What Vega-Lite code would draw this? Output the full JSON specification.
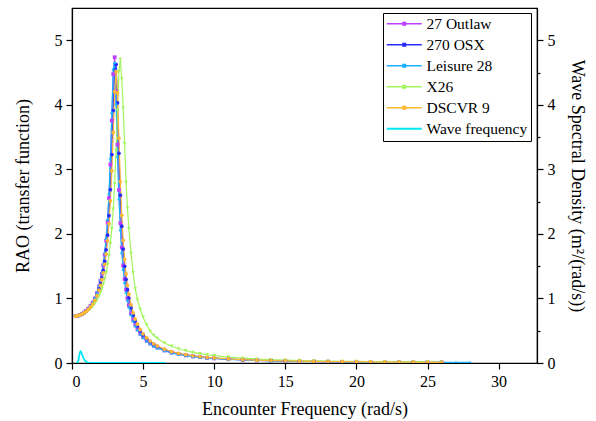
{
"$schema":"https://vega.github.io/schema/vega-lite/v6.json",
"width":465,"height":355,
"autosize":{"type":"none"},
"padding":{"left":72,"top":8,"right":59,"bottom":58},
"background":"white",
"title":{"text":"(a)","font":"Liberation Serif","fontSize":17,"fontWeight":"normal","color":"black","frame":"group","anchor":"middle","baseline":"bottom","offset":5},
"config":{
 "view":{"stroke":"black","strokeWidth":1.2},
 "axis":{"domainColor":"black","domainWidth":1.2,"tickColor":"black","tickWidth":1.2,"labelColor":"black","titleColor":"black","labelFont":"Liberation Serif","titleFont":"Liberation Serif","labelFontSize":16,"titleFontSize":18,"titleFontWeight":"normal","grid":false,"labelPadding":4}
},
"datasets":{
"rao":[
{"s":"27 Outlaw","x":0.25,"y":0.725},{"s":"27 Outlaw","x":0.4,"y":0.733},{"s":"27 Outlaw","x":0.55,"y":0.745},{"s":"27 Outlaw","x":0.7,"y":0.761},{"s":"27 Outlaw","x":0.85,"y":0.782},{"s":"27 Outlaw","x":1,"y":0.809},{"s":"27 Outlaw","x":1.15,"y":0.842},{"s":"27 Outlaw","x":1.3,"y":0.884},{"s":"27 Outlaw","x":1.45,"y":0.935},{"s":"27 Outlaw","x":1.6,"y":1.0},{"s":"27 Outlaw","x":1.75,"y":1.082},{"s":"27 Outlaw","x":1.9,"y":1.187},{"s":"27 Outlaw","x":2,"y":1.275},{"s":"27 Outlaw","x":2.1,"y":1.382},{"s":"27 Outlaw","x":2.2,"y":1.514},{"s":"27 Outlaw","x":2.3,"y":1.681},{"s":"27 Outlaw","x":2.4,"y":1.895},{"s":"27 Outlaw","x":2.5,"y":2.177},{"s":"27 Outlaw","x":2.6,"y":2.557},{"s":"27 Outlaw","x":2.7,"y":3.075},{"s":"27 Outlaw","x":2.8,"y":3.756},{"s":"27 Outlaw","x":2.9,"y":4.475},{"s":"27 Outlaw","x":3,"y":4.737},{"s":"27 Outlaw","x":3.1,"y":4.208},{"s":"27 Outlaw","x":3.2,"y":3.384},{"s":"27 Outlaw","x":3.3,"y":2.682},{"s":"27 Outlaw","x":3.4,"y":2.165},{"s":"27 Outlaw","x":3.5,"y":1.79},{"s":"27 Outlaw","x":3.6,"y":1.512},{"s":"27 Outlaw","x":3.7,"y":1.3},{"s":"27 Outlaw","x":3.8,"y":1.135},{"s":"27 Outlaw","x":3.9,"y":1.003},{"s":"27 Outlaw","x":4,"y":0.896},{"s":"27 Outlaw","x":4.15,"y":0.768},{"s":"27 Outlaw","x":4.3,"y":0.669},{"s":"27 Outlaw","x":4.45,"y":0.59},{"s":"27 Outlaw","x":4.6,"y":0.525},{"s":"27 Outlaw","x":4.8,"y":0.456},{"s":"27 Outlaw","x":5,"y":0.401},{"s":"27 Outlaw","x":5.25,"y":0.346},{"s":"27 Outlaw","x":5.5,"y":0.303},{"s":"27 Outlaw","x":5.75,"y":0.268},{"s":"27 Outlaw","x":6,"y":0.239},{"s":"27 Outlaw","x":6.5,"y":0.194},{"s":"27 Outlaw","x":7,"y":0.161},{"s":"27 Outlaw","x":7.5,"y":0.137},{"s":"27 Outlaw","x":8,"y":0.118},{"s":"27 Outlaw","x":8.5,"y":0.102},{"s":"27 Outlaw","x":9,"y":0.09},{"s":"27 Outlaw","x":9.5,"y":0.08},{"s":"27 Outlaw","x":10,"y":0.071},{"s":"27 Outlaw","x":11,"y":0.058},{"s":"27 Outlaw","x":12,"y":0.048},{"s":"27 Outlaw","x":13,"y":0.041},{"s":"27 Outlaw","x":14,"y":0.035},{"s":"27 Outlaw","x":15,"y":0.03},{"s":"27 Outlaw","x":16,"y":0.026},{"s":"27 Outlaw","x":17,"y":0.023},{"s":"27 Outlaw","x":18,"y":0.021},{"s":"27 Outlaw","x":19,"y":0.018},{"s":"27 Outlaw","x":20,"y":0.017},{"s":"27 Outlaw","x":21,"y":0.015},{"s":"27 Outlaw","x":22,"y":0.014},{"s":"27 Outlaw","x":23,"y":0.012},{"s":"27 Outlaw","x":24,"y":0.011},{"s":"27 Outlaw","x":25,"y":0.011},{"s":"27 Outlaw","x":26,"y":0.01},
{"s":"270 OSX","x":0.25,"y":0.725},{"s":"270 OSX","x":0.4,"y":0.732},{"s":"270 OSX","x":0.55,"y":0.744},{"s":"270 OSX","x":0.7,"y":0.759},{"s":"270 OSX","x":0.85,"y":0.779},{"s":"270 OSX","x":1,"y":0.804},{"s":"270 OSX","x":1.15,"y":0.835},{"s":"270 OSX","x":1.3,"y":0.873},{"s":"270 OSX","x":1.45,"y":0.921},{"s":"270 OSX","x":1.6,"y":0.98},{"s":"270 OSX","x":1.75,"y":1.054},{"s":"270 OSX","x":1.9,"y":1.149},{"s":"270 OSX","x":2,"y":1.227},{"s":"270 OSX","x":2.1,"y":1.32},{"s":"270 OSX","x":2.2,"y":1.434},{"s":"270 OSX","x":2.3,"y":1.575},{"s":"270 OSX","x":2.4,"y":1.753},{"s":"270 OSX","x":2.5,"y":1.981},{"s":"270 OSX","x":2.6,"y":2.283},{"s":"270 OSX","x":2.7,"y":2.686},{"s":"270 OSX","x":2.8,"y":3.229},{"s":"270 OSX","x":2.9,"y":3.911},{"s":"270 OSX","x":3,"y":4.542},{"s":"270 OSX","x":3.1,"y":4.628},{"s":"270 OSX","x":3.2,"y":4.029},{"s":"270 OSX","x":3.3,"y":3.248},{"s":"270 OSX","x":3.4,"y":2.6},{"s":"270 OSX","x":3.5,"y":2.119},{"s":"270 OSX","x":3.6,"y":1.765},{"s":"270 OSX","x":3.7,"y":1.499},{"s":"270 OSX","x":3.8,"y":1.295},{"s":"270 OSX","x":3.9,"y":1.136},{"s":"270 OSX","x":4,"y":1.007},{"s":"270 OSX","x":4.15,"y":0.856},{"s":"270 OSX","x":4.3,"y":0.74},{"s":"270 OSX","x":4.45,"y":0.649},{"s":"270 OSX","x":4.6,"y":0.575},{"s":"270 OSX","x":4.8,"y":0.497},{"s":"270 OSX","x":5,"y":0.435},{"s":"270 OSX","x":5.25,"y":0.374},{"s":"270 OSX","x":5.5,"y":0.326},{"s":"270 OSX","x":5.75,"y":0.288},{"s":"270 OSX","x":6,"y":0.256},{"s":"270 OSX","x":6.5,"y":0.208},{"s":"270 OSX","x":7,"y":0.172},{"s":"270 OSX","x":7.5,"y":0.146},{"s":"270 OSX","x":8,"y":0.125},{"s":"270 OSX","x":8.5,"y":0.109},{"s":"270 OSX","x":9,"y":0.096},{"s":"270 OSX","x":9.5,"y":0.085},{"s":"270 OSX","x":10,"y":0.075},{"s":"270 OSX","x":11,"y":0.061},{"s":"270 OSX","x":12,"y":0.051},{"s":"270 OSX","x":13,"y":0.043},{"s":"270 OSX","x":14,"y":0.037},{"s":"270 OSX","x":15,"y":0.032},{"s":"270 OSX","x":16,"y":0.028},{"s":"270 OSX","x":17,"y":0.024},{"s":"270 OSX","x":18,"y":0.022},{"s":"270 OSX","x":19,"y":0.019},{"s":"270 OSX","x":20,"y":0.018},{"s":"270 OSX","x":21,"y":0.016},{"s":"270 OSX","x":22,"y":0.014},{"s":"270 OSX","x":23,"y":0.013},{"s":"270 OSX","x":24,"y":0.012},{"s":"270 OSX","x":25,"y":0.011},{"s":"270 OSX","x":26,"y":0.01},
{"s":"Leisure 28","x":0.25,"y":0.725},{"s":"Leisure 28","x":0.4,"y":0.733},{"s":"Leisure 28","x":0.55,"y":0.746},{"s":"Leisure 28","x":0.7,"y":0.762},{"s":"Leisure 28","x":0.85,"y":0.784},{"s":"Leisure 28","x":1,"y":0.811},{"s":"Leisure 28","x":1.15,"y":0.845},{"s":"Leisure 28","x":1.3,"y":0.889},{"s":"Leisure 28","x":1.45,"y":0.941},{"s":"Leisure 28","x":1.6,"y":1.008},{"s":"Leisure 28","x":1.75,"y":1.092},{"s":"Leisure 28","x":1.9,"y":1.2},{"s":"Leisure 28","x":2,"y":1.288},{"s":"Leisure 28","x":2.1,"y":1.399},{"s":"Leisure 28","x":2.2,"y":1.536},{"s":"Leisure 28","x":2.3,"y":1.709},{"s":"Leisure 28","x":2.4,"y":1.934},{"s":"Leisure 28","x":2.5,"y":2.23},{"s":"Leisure 28","x":2.6,"y":2.632},{"s":"Leisure 28","x":2.7,"y":3.179},{"s":"Leisure 28","x":2.8,"y":3.883},{"s":"Leisure 28","x":2.9,"y":4.557},{"s":"Leisure 28","x":3,"y":4.657},{"s":"Leisure 28","x":3.1,"y":4.018},{"s":"Leisure 28","x":3.2,"y":3.206},{"s":"Leisure 28","x":3.3,"y":2.547},{"s":"Leisure 28","x":3.4,"y":2.065},{"s":"Leisure 28","x":3.5,"y":1.715},{"s":"Leisure 28","x":3.6,"y":1.454},{"s":"Leisure 28","x":3.7,"y":1.254},{"s":"Leisure 28","x":3.8,"y":1.098},{"s":"Leisure 28","x":3.9,"y":0.973},{"s":"Leisure 28","x":4,"y":0.87},{"s":"Leisure 28","x":4.15,"y":0.748},{"s":"Leisure 28","x":4.3,"y":0.652},{"s":"Leisure 28","x":4.45,"y":0.576},{"s":"Leisure 28","x":4.6,"y":0.513},{"s":"Leisure 28","x":4.8,"y":0.446},{"s":"Leisure 28","x":5,"y":0.393},{"s":"Leisure 28","x":5.25,"y":0.339},{"s":"Leisure 28","x":5.5,"y":0.297},{"s":"Leisure 28","x":5.75,"y":0.263},{"s":"Leisure 28","x":6,"y":0.234},{"s":"Leisure 28","x":6.5,"y":0.19},{"s":"Leisure 28","x":7,"y":0.158},{"s":"Leisure 28","x":7.5,"y":0.134},{"s":"Leisure 28","x":8,"y":0.115},{"s":"Leisure 28","x":8.5,"y":0.1},{"s":"Leisure 28","x":9,"y":0.088},{"s":"Leisure 28","x":9.5,"y":0.078},{"s":"Leisure 28","x":10,"y":0.07},{"s":"Leisure 28","x":11,"y":0.057},{"s":"Leisure 28","x":12,"y":0.047},{"s":"Leisure 28","x":13,"y":0.04},{"s":"Leisure 28","x":14,"y":0.034},{"s":"Leisure 28","x":15,"y":0.029},{"s":"Leisure 28","x":16,"y":0.026},{"s":"Leisure 28","x":17,"y":0.023},{"s":"Leisure 28","x":18,"y":0.02},{"s":"Leisure 28","x":19,"y":0.018},{"s":"Leisure 28","x":20,"y":0.016},{"s":"Leisure 28","x":21,"y":0.015},{"s":"Leisure 28","x":22,"y":0.013},{"s":"Leisure 28","x":23,"y":0.012},{"s":"Leisure 28","x":24,"y":0.011},{"s":"Leisure 28","x":25,"y":0.01},{"s":"Leisure 28","x":26,"y":0.0095},{"s":"Leisure 28","x":27,"y":0.009},{"s":"Leisure 28","x":28,"y":0.0085},
{"s":"X26","x":0.25,"y":0.724},{"s":"X26","x":0.4,"y":0.73},{"s":"X26","x":0.55,"y":0.739},{"s":"X26","x":0.7,"y":0.752},{"s":"X26","x":0.85,"y":0.768},{"s":"X26","x":1,"y":0.787},{"s":"X26","x":1.15,"y":0.812},{"s":"X26","x":1.3,"y":0.841},{"s":"X26","x":1.45,"y":0.877},{"s":"X26","x":1.6,"y":0.921},{"s":"X26","x":1.75,"y":0.974},{"s":"X26","x":1.9,"y":1.039},{"s":"X26","x":2,"y":1.091},{"s":"X26","x":2.1,"y":1.151},{"s":"X26","x":2.2,"y":1.221},{"s":"X26","x":2.3,"y":1.304},{"s":"X26","x":2.4,"y":1.403},{"s":"X26","x":2.5,"y":1.523},{"s":"X26","x":2.6,"y":1.669},{"s":"X26","x":2.7,"y":1.851},{"s":"X26","x":2.8,"y":2.083},{"s":"X26","x":2.9,"y":2.383},{"s":"X26","x":3,"y":2.776},{"s":"X26","x":3.1,"y":3.289},{"s":"X26","x":3.2,"y":3.917},{"s":"X26","x":3.3,"y":4.517},{"s":"X26","x":3.4,"y":4.706},{"s":"X26","x":3.5,"y":4.4},{"s":"X26","x":3.6,"y":3.95},{"s":"X26","x":3.7,"y":3.4},{"s":"X26","x":3.8,"y":2.8},{"s":"X26","x":3.9,"y":2.4},{"s":"X26","x":4,"y":2.08},{"s":"X26","x":4.15,"y":1.7},{"s":"X26","x":4.3,"y":1.4},{"s":"X26","x":4.45,"y":1.15},{"s":"X26","x":4.6,"y":0.98},{"s":"X26","x":4.8,"y":0.83},{"s":"X26","x":5,"y":0.71},{"s":"X26","x":5.25,"y":0.59},{"s":"X26","x":5.5,"y":0.49},{"s":"X26","x":5.75,"y":0.43},{"s":"X26","x":6,"y":0.38},{"s":"X26","x":6.5,"y":0.31},{"s":"X26","x":7,"y":0.26},{"s":"X26","x":7.5,"y":0.22},{"s":"X26","x":8,"y":0.19},{"s":"X26","x":8.5,"y":0.165},{"s":"X26","x":9,"y":0.145},{"s":"X26","x":9.5,"y":0.128},{"s":"X26","x":10,"y":0.114},{"s":"X26","x":11,"y":0.092},{"s":"X26","x":12,"y":0.075},{"s":"X26","x":13,"y":0.062},{"s":"X26","x":14,"y":0.053},{"s":"X26","x":15,"y":0.045},{"s":"X26","x":16,"y":0.039},{"s":"X26","x":17,"y":0.034},{"s":"X26","x":18,"y":0.03},{"s":"X26","x":19,"y":0.027},{"s":"X26","x":20,"y":0.024},{"s":"X26","x":21,"y":0.022},{"s":"X26","x":22,"y":0.02},{"s":"X26","x":23,"y":0.018},{"s":"X26","x":24,"y":0.017},{"s":"X26","x":25,"y":0.016},{"s":"X26","x":26,"y":0.015},
{"s":"DSCVR 9","x":0.25,"y":0.725},{"s":"DSCVR 9","x":0.4,"y":0.732},{"s":"DSCVR 9","x":0.55,"y":0.743},{"s":"DSCVR 9","x":0.7,"y":0.757},{"s":"DSCVR 9","x":0.85,"y":0.777},{"s":"DSCVR 9","x":1,"y":0.801},{"s":"DSCVR 9","x":1.15,"y":0.831},{"s":"DSCVR 9","x":1.3,"y":0.868},{"s":"DSCVR 9","x":1.45,"y":0.914},{"s":"DSCVR 9","x":1.6,"y":0.971},{"s":"DSCVR 9","x":1.75,"y":1.042},{"s":"DSCVR 9","x":1.9,"y":1.131},{"s":"DSCVR 9","x":2,"y":1.204},{"s":"DSCVR 9","x":2.1,"y":1.291},{"s":"DSCVR 9","x":2.2,"y":1.397},{"s":"DSCVR 9","x":2.3,"y":1.527},{"s":"DSCVR 9","x":2.4,"y":1.688},{"s":"DSCVR 9","x":2.5,"y":1.894},{"s":"DSCVR 9","x":2.6,"y":2.16},{"s":"DSCVR 9","x":2.7,"y":2.511},{"s":"DSCVR 9","x":2.8,"y":2.977},{"s":"DSCVR 9","x":2.9,"y":3.573},{"s":"DSCVR 9","x":3,"y":4.203},{"s":"DSCVR 9","x":3.1,"y":4.514},{"s":"DSCVR 9","x":3.2,"y":4.184},{"s":"DSCVR 9","x":3.3,"y":3.483},{"s":"DSCVR 9","x":3.4,"y":2.811},{"s":"DSCVR 9","x":3.5,"y":2.289},{"s":"DSCVR 9","x":3.6,"y":1.898},{"s":"DSCVR 9","x":3.7,"y":1.606},{"s":"DSCVR 9","x":3.8,"y":1.381},{"s":"DSCVR 9","x":3.9,"y":1.206},{"s":"DSCVR 9","x":4,"y":1.066},{"s":"DSCVR 9","x":4.15,"y":0.902},{"s":"DSCVR 9","x":4.3,"y":0.778},{"s":"DSCVR 9","x":4.45,"y":0.68},{"s":"DSCVR 9","x":4.6,"y":0.601},{"s":"DSCVR 9","x":4.8,"y":0.518},{"s":"DSCVR 9","x":5,"y":0.453},{"s":"DSCVR 9","x":5.25,"y":0.389},{"s":"DSCVR 9","x":5.5,"y":0.339},{"s":"DSCVR 9","x":5.75,"y":0.298},{"s":"DSCVR 9","x":6,"y":0.265},{"s":"DSCVR 9","x":6.5,"y":0.214},{"s":"DSCVR 9","x":7,"y":0.178},{"s":"DSCVR 9","x":7.5,"y":0.15},{"s":"DSCVR 9","x":8,"y":0.129},{"s":"DSCVR 9","x":8.5,"y":0.112},{"s":"DSCVR 9","x":9,"y":0.098},{"s":"DSCVR 9","x":9.5,"y":0.087},{"s":"DSCVR 9","x":10,"y":0.078},{"s":"DSCVR 9","x":11,"y":0.063},{"s":"DSCVR 9","x":12,"y":0.052},{"s":"DSCVR 9","x":13,"y":0.044},{"s":"DSCVR 9","x":14,"y":0.038},{"s":"DSCVR 9","x":15,"y":0.033},{"s":"DSCVR 9","x":16,"y":0.029},{"s":"DSCVR 9","x":17,"y":0.025},{"s":"DSCVR 9","x":18,"y":0.022},{"s":"DSCVR 9","x":19,"y":0.02},{"s":"DSCVR 9","x":20,"y":0.018},{"s":"DSCVR 9","x":21,"y":0.016},{"s":"DSCVR 9","x":22,"y":0.015},{"s":"DSCVR 9","x":23,"y":0.014},{"s":"DSCVR 9","x":24,"y":0.012},{"s":"DSCVR 9","x":25,"y":0.011},{"s":"DSCVR 9","x":26,"y":0.011}
],
"wave":[
{"s":"Wave frequency","x":0.3,"y":0},{"s":"Wave frequency","x":0.4,"y":0.01},{"s":"Wave frequency","x":0.45,"y":0.04},{"s":"Wave frequency","x":0.5,"y":0.1},{"s":"Wave frequency","x":0.55,"y":0.16},{"s":"Wave frequency","x":0.6,"y":0.18},{"s":"Wave frequency","x":0.65,"y":0.17},{"s":"Wave frequency","x":0.7,"y":0.14},{"s":"Wave frequency","x":0.8,"y":0.08},{"s":"Wave frequency","x":0.9,"y":0.04},{"s":"Wave frequency","x":1.0,"y":0.02},{"s":"Wave frequency","x":1.1,"y":0.008},{"s":"Wave frequency","x":1.2,"y":0.003},{"s":"Wave frequency","x":1.4,"y":0.001},{"s":"Wave frequency","x":1.8,"y":0},{"s":"Wave frequency","x":3,"y":0},{"s":"Wave frequency","x":5,"y":0},{"s":"Wave frequency","x":6.6,"y":0}
]
},
"layer":[
 {"data":{"name":"rao"},
  "layer":[
   {"mark":{"type":"line","strokeWidth":1.2,"clip":true},
    "encoding":{
     "x":{"field":"x","type":"quantitative","scale":{"domain":[0,32.7],"nice":false,"zero":false},
      "axis":{"title":"Encounter Frequency (rad/s)","values":[0,2.5,5,7.5,10,12.5,15,17.5,20,22.5,25,27.5,30,32.5],"labelExpr":"datum.value % 5 === 0 ? format(datum.value, 'd') : ''","tickSize":{"condition":{"test":"datum.value % 5 !== 0","value":3},"value":6},"titlePadding":11}},
     "y":{"field":"y","type":"quantitative","scale":{"domain":[0,5.5],"nice":false},
      "axis":{"title":"RAO (transfer function)","orient":"left","values":[0,0.5,1,1.5,2,2.5,3,3.5,4,4.5,5],"labelExpr":"datum.value % 1 === 0 ? format(datum.value, 'd') : ''","tickSize":{"condition":{"test":"datum.value % 1 !== 0","value":3},"value":6},"titlePadding":22}},
     "color":{"field":"s","type":"nominal","sort":null,
      "scale":{"domain":["27 Outlaw","270 OSX","Leisure 28","X26","DSCVR 9","Wave frequency"],"range":["#bf3fff","#2a2aff","#1ab2ff","#a3f55e","#ffb833","#00e8f5"]},
      "legend":{"title":null,"orient":"none","legendX":311,"legendY":5,"symbolType":"M-1,0H4M1.3,-0.2H1.7V0.2H1.3Z","symbolSize":196,"symbolStrokeWidth":1.5,"labelFont":"Liberation Serif","labelFontSize":15.5,"labelColor":"black","labelOffset":25,"strokeColor":"black","fillColor":"white","padding":3,"rowPadding":4,"labelLimit":300,
       "encode":{"symbols":{"update":{"shape":{"signal":"datum.value === 'Wave frequency' ? 'M-1,0H4' : 'M-1,0H4M1.3,-0.2H1.7V0.2H1.3Z'"},"strokeWidth":{"signal":"datum.value === 'Wave frequency' ? 2.2 : 1.3"},"fill":{"signal":"scale('color', datum.value)"},"opacity":{"value":1}}}}}}
    }},
   {"mark":{"type":"point","filled":true,"opacity":1,"clip":true},
    "encoding":{
     "x":{"field":"x","type":"quantitative"},
     "y":{"field":"y","type":"quantitative"},
     "color":{"field":"s","type":"nominal","sort":null},
     "shape":{"field":"s","type":"nominal","sort":null,"legend":null,
      "scale":{"domain":["27 Outlaw","270 OSX","Leisure 28","X26","DSCVR 9"],"range":["square","circle","triangle-up","triangle-down","circle"]}},
     "size":{"field":"s","type":"nominal","sort":null,"legend":null,
      "scale":{"domain":["27 Outlaw","270 OSX","Leisure 28","X26","DSCVR 9"],"range":[14,14,16,18,26]}}
    }}
  ]},
 {"data":{"name":"wave"},
  "mark":{"type":"line","strokeWidth":1.8,"clip":true},
  "encoding":{
   "x":{"field":"x","type":"quantitative"},
   "y":{"field":"y","type":"quantitative","scale":{"domain":[0,5.5],"nice":false},
    "axis":{"title":"Wave Spectral Density (m²/(rad/s))","orient":"right","values":[0,0.5,1,1.5,2,2.5,3,3.5,4,4.5,5],"labelExpr":"datum.value % 1 === 0 ? format(datum.value, 'd') : ''","tickSize":{"condition":{"test":"datum.value % 1 !== 0","value":3},"value":6},"titlePadding":12}},
   "color":{"field":"s","type":"nominal","sort":null}
  }}
],
"resolve":{"scale":{"y":"independent"}}
}
